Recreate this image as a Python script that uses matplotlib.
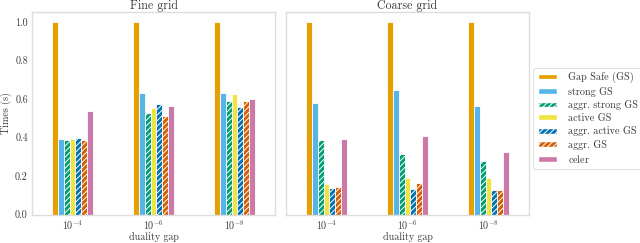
import numpy as np
import matplotlib
matplotlib.use('Agg')
import matplotlib.pyplot as plt
from matplotlib.patches import Patch

# Datos
GAPS = [r'$10^{-4}$', r'$10^{-6}$', r'$10^{-8}$']
SOLVERS = ['Gap Safe (GS)', 'strong GS', 'aggr. strong GS', 'active GS',
           'aggr. active GS', 'aggr. GS', r'$\mathrm{celer}$']
COLORS = ['#E69F00', '#56B4E9', '#009E73', '#F0E442', '#0072B2', '#D55E00',
          '#CC79A7']
HATCHES = ['', '', '//////', '', '//////', '//////', '']

fine_times = [
    [1.0, 1.0, 1.0],        # Gap Safe (GS)
    [0.395, 0.633, 0.633],  # strong GS
    [0.386, 0.527, 0.588],  # aggr. strong GS
    [0.390, 0.551, 0.626],  # active GS
    [0.397, 0.576, 0.560],  # aggr. active GS
    [0.386, 0.511, 0.590],  # aggr. GS
    [0.536, 0.562, 0.602],  # celer
]
coarse_times = [
    [1.0, 1.0, 1.0],
    [0.579, 0.645, 0.565],
    [0.386, 0.317, 0.277],
    [0.157, 0.188, 0.188],
    [0.137, 0.130, 0.125],
    [0.141, 0.162, 0.125],
    [0.395, 0.410, 0.327],
]

plt.rcParams['font.family'] = 'cmr10'
plt.rcParams['mathtext.fontset'] = 'cm'
plt.rcParams['axes.unicode_minus'] = False
plt.rcParams['font.size'] = 7.2
plt.rcParams['hatch.linewidth'] = 0.7
TXT = '#3a3a3a'
plt.rcParams['text.color'] = TXT
plt.rcParams['axes.labelcolor'] = TXT
plt.rcParams['xtick.color'] = TXT
plt.rcParams['ytick.color'] = TXT

fig = plt.figure(figsize=(6.4, 2.43), dpi=100)
ax1 = fig.add_axes([32 / 640., 28.5 / 243., 243 / 640., 202 / 243.])
ax2 = fig.add_axes([286 / 640., 28.5 / 243., 243 / 640., 202 / 243.])

ind = np.arange(len(GAPS))
n = len(SOLVERS)
w = 0.5 / n


def barras(ax, series, titulo):
    for i, vals in enumerate(series):
        ax.bar(ind - 0.25 + w * (i + 0.5), vals, w, color=COLORS[i],
               edgecolor='white', hatch=HATCHES[i], linewidth=0.6)
    ax.set_xlim(-0.5, 2.5)
    ax.set_ylim(0, 1.05)
    ax.set_xticks(ind)
    ax.set_xticklabels(GAPS)
    ax.set_xlabel('duality gap', labelpad=0)
    ax.set_title(titulo, pad=2)
    ax.tick_params(length=0, pad=3)
    for sp in ax.spines.values():
        sp.set_color('#dddddd')
        sp.set_linewidth(1.0)


barras(ax1, fine_times, 'Fine grid')
barras(ax2, coarse_times, 'Coarse grid')
ax1.set_yticks([0, 0.2, 0.4, 0.6, 0.8, 1.0])
ax1.set_yticklabels(['0.0', '0.2', '0.4', '0.6', '0.8', '1.0'])
ax1.set_ylabel('Times (s)', labelpad=2)
ax2.set_yticks([])

handles = [Patch(facecolor=COLORS[i], edgecolor='white', hatch=HATCHES[i])
           for i in range(n)]
leg = fig.legend(handles, SOLVERS, loc='center left',
                 bbox_to_anchor=(533 / 640., 124.5 / 243.), fontsize=7.3,
                 labelspacing=0.33, handlelength=1.9, handleheight=0.5,
                 handletextpad=1.1, borderpad=0.45, borderaxespad=0.0,
                 frameon=True, fancybox=True)
leg.get_frame().set_edgecolor('#dddddd')
leg.get_frame().set_linewidth(0.8)

fig.savefig('out.png', dpi=100)
